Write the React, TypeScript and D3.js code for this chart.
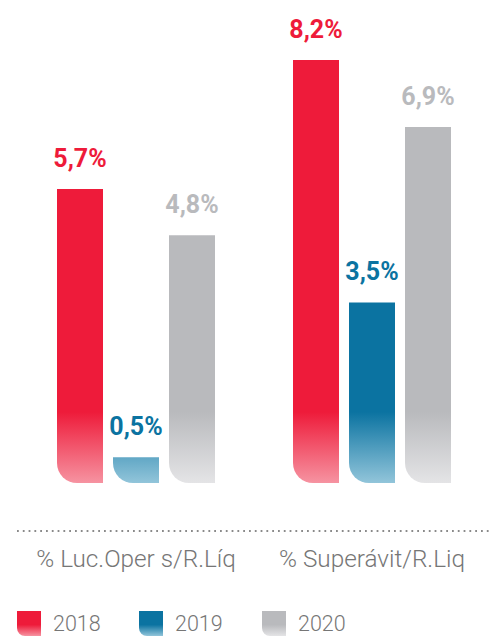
import React from "react";
import * as d3 from "d3";

const width = 491;
const height = 636;

// data
const categories = ["% Luc.Oper s/R.Líq", "% Superávit/R.Liq"];
const years = ["2018", "2019", "2020"];
const values2018 = [5.7, 8.2];
const values2019 = [0.5, 3.5];
const values2020 = [4.8, 6.9];
const valueLabels = [
  ["5,7%", "0,5%", "4,8%"],
  ["8,2%", "3,5%", "6,9%"],
];

const colors: Record<string, { top: string; bottom: string }> = {
  "2018": { top: "#ee1b3a", bottom: "#f693a1" },
  "2019": { top: "#0b73a1", bottom: "#92c5da" },
  "2020": { top: "#b9babd", bottom: "#e4e4e6" },
};

const baseline = 483;
const radius = 20;

// bar with a rounded bottom-left corner
function barPath(x: number, y: number, w: number, h: number, r: number) {
  const rr = Math.min(r, h, w);
  return `M${x},${y}H${x + w}V${y + h}H${x + rr}A${rr},${rr} 0 0 1 ${x},${y + h - rr}Z`;
}

export default function App() {
  const x0 = d3
    .scaleBand()
    .domain(categories)
    .range([18, 490])
    .paddingInner(78 / 236)
    .paddingOuter(39 / 236);

  const x1 = d3
    .scaleBand()
    .domain(years)
    .range([0, x0.bandwidth()])
    .paddingInner(10 / 56)
    .paddingOuter(0);

  const y = d3.scaleLinear().domain([0, 9]).range([baseline, baseline - 9 * 51.6]);

  const series: Record<string, number[]> = {
    "2018": values2018,
    "2019": values2019,
    "2020": values2020,
  };

  const legendX = d3.scaleOrdinal<string, number>().domain(years).range([17, 139, 262]);

  return (
    <svg
      width={width}
      height={height}
      style={{ position: "absolute", left: 0, top: 0, fontFamily: "Roboto, sans-serif" }}
    >
      <defs>
        {years.map((yr) => (
          <linearGradient
            key={yr}
            id={`g${yr}`}
            gradientUnits="userSpaceOnUse"
            x1={0}
            x2={0}
            y1={412}
            y2={baseline}
          >
            <stop offset="0" stopColor={colors[yr].top} />
            <stop offset="1" stopColor={colors[yr].bottom} />
          </linearGradient>
        ))}
        {years.map((yr) => (
          <linearGradient key={"l" + yr} id={`lg${yr}`} x1={0} x2={0} y1={0} y2={1}>
            <stop offset="0.55" stopColor={colors[yr].top} />
            <stop offset="1" stopColor={colors[yr].bottom} />
          </linearGradient>
        ))}
      </defs>

      {categories.map((cat, ci) => (
        <g key={cat} transform={`translate(${x0(cat)},0)`}>
          {years.map((yr, yi) => {
            const v = series[yr][ci];
            const bx = x1(yr)!;
            const bw = x1.bandwidth();
            const top = y(v);
            return (
              <g key={yr}>
                <path d={barPath(bx, top, bw, baseline - top, radius)} fill={`url(#g${yr})`} />
                <text
                  x={bx + bw / 2}
                  y={top - 22}
                  textAnchor="middle"
                  fontSize={25}
                  fontWeight={700}
                  fill={colors[yr].top}
                >
                  {valueLabels[ci][yi]}
                </text>
              </g>
            );
          })}
          <text
            x={x0.bandwidth() / 2}
            y={567}
            textAnchor="middle"
            fontSize={24.3}
            fontWeight={300}
            fill="#767676"
          >
            {cat}
          </text>
        </g>
      ))}

      <line
        x1={17}
        x2={width}
        y1={531}
        y2={531}
        stroke="#8a8a8a"
        strokeWidth={2}
        strokeDasharray="1.8 4"
      />

      {years.map((yr) => (
        <g key={yr} transform={`translate(${legendX(yr)},611)`}>
          <path d={barPath(0, 0, 24, 25, 8)} fill={`url(#lg${yr})`} />
          <text x={36} y={20} fontSize={21.5} fontWeight={300} fill="#767676">
            {yr}
          </text>
        </g>
      ))}
    </svg>
  );
}
